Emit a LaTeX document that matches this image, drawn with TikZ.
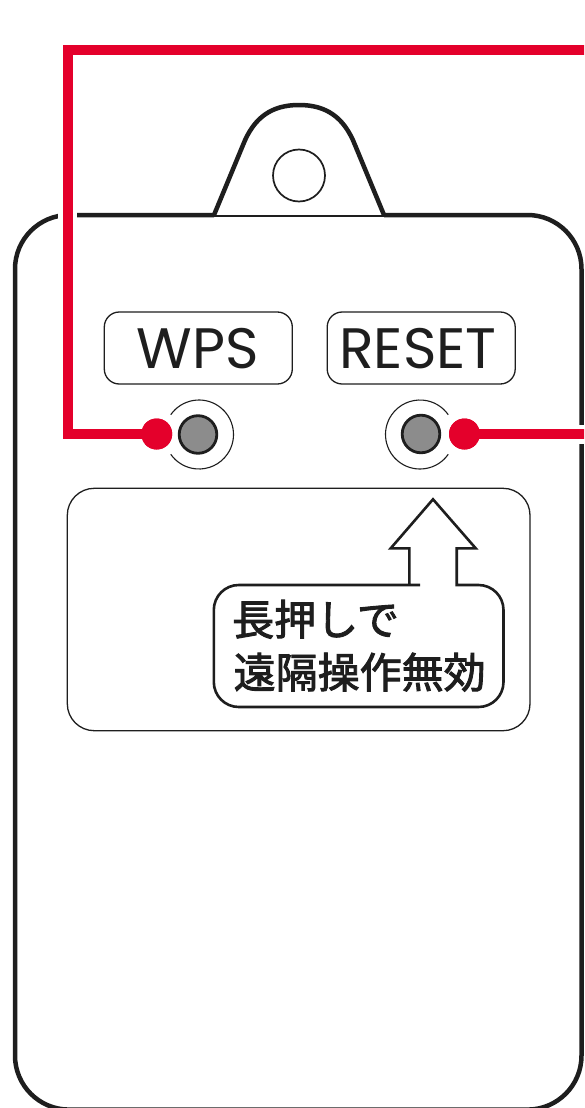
\documentclass[tikz,border=0pt]{standalone}
\usepackage{fontspec}
\setmainfont{Poppins}
\newfontfamily\jpfont[FakeBold=2.2]{Noto Sans CJK JP}
\definecolor{rd}{RGB}{228,0,43}
\definecolor{ink}{RGB}{30,30,30}
\definecolor{btn}{RGB}{140,140,140}
\begin{document}
\begin{tikzpicture}[x=1pt,y=-1pt,
  bodyline/.style={ink,line width=4.5pt,line join=round},
  redline/.style={rd,line width=10pt},
  redhalo/.style={white,line width=19pt},
  reddot/.style={circle,fill=rd,minimum size=31pt,inner sep=0pt},
  core/.style={circle,draw=ink,line width=2.8pt,fill=btn,minimum size=37.6pt,inner sep=0pt},
  ring/.style={ink,line width=1.1pt},
  lblbox/.style={draw=ink,line width=1.3pt,rounded corners=15pt,minimum width=188pt,minimum height=72pt,inner sep=0pt},
  lbltext/.style={inner sep=0pt,text=ink,font=\fontsize{57}{60}\selectfont},
  jp/.style={inner sep=0pt,text=ink,font=\jpfont\fontsize{42}{50}\selectfont},
]
\useasboundingbox (0,0) rectangle (584,1108);
\clip (0,0) rectangle (584,1108);
\fill[white] (0,0) rectangle (584,1108);

% body outline
\draw[bodyline,rounded corners=54pt] (214,215) -- (15,215) -- (15,1109.6) -- (581.5,1109.6) -- (581.5,215) -- (384,215);
% tab
\draw[bodyline] (214,215) -- (243,145) .. controls (254,117) and (272,105) .. (299,105)
  .. controls (326,105) and (344,117) .. (355,145) -- (384,215);
\draw[ink,line width=2pt] (214,215.5) -- (384,215.5);
\draw[ink,line width=1.7pt] (299,175.5) circle (26);

% labels
\node[lblbox] (wpsbox) at (198.3,348) {};
\node[lblbox] (resetbox) at (421.2,348) {};
\node[lbltext] (wpstext) at (197.5,348.3) {WPS};
\node[lbltext] (resettext) at (418,348.3) {RESET};

% buttons
\draw[ring] (199,434.5) ++(-145:34.5) arc[start angle=-145,end angle=145,radius=34.5];
\draw[ring] (420,434.5) ++(35:34.5) arc[start angle=35,end angle=325,radius=34.5];
\node[core] (wpsbtn) at (198,434.5) {};
\node[core] (resetbtn) at (421,434) {};

% panel
\draw[ink,line width=1.3pt,rounded corners=27pt] (67.3,488.3) rectangle (530,730.7);

% callout with arrow
\draw[ink,line width=2.6pt,line join=miter]
  (409.3,585) -- (409.3,548.3) -- (390.7,548.3) -- (433,499.3) -- (475.7,548.3)
  -- (456.7,548.3) -- (456.7,585) -- (470,585) [rounded corners=25pt] -- (503.5,585)
  -- (503.5,707) -- (213.8,707) -- (213.8,585) -- (395,585) [sharp corners] -- (409.3,585) -- cycle;
\node[jp,anchor=base west] (line1) at (232,635.2) {長押しで};
\node[jp,anchor=base west] (line2) at (233.5,688) {遠隔操作無効};

% red connectors
\node[reddot] (wpsdot) at (156.7,434) {};
\node[reddot] (resetdot) at (464.5,434) {};
\coordinate (lc) at (67.7,434);
\coordinate (tl) at (67.7,50);
\coordinate (tr) at (610,50);
\coordinate (rr) at (610,434);
\draw[redhalo] (wpsdot.center) -- (lc) -- (tl) -- (tr);
\draw[redhalo] (resetdot.center) -- (rr);
\draw[redline] (wpsdot.center) -- (lc) -- (tl) -- (tr);
\draw[redline] (resetdot.center) -- (rr);
\node[reddot] at (wpsdot) {};
\node[reddot] at (resetdot) {};
\end{tikzpicture}
\end{document}
